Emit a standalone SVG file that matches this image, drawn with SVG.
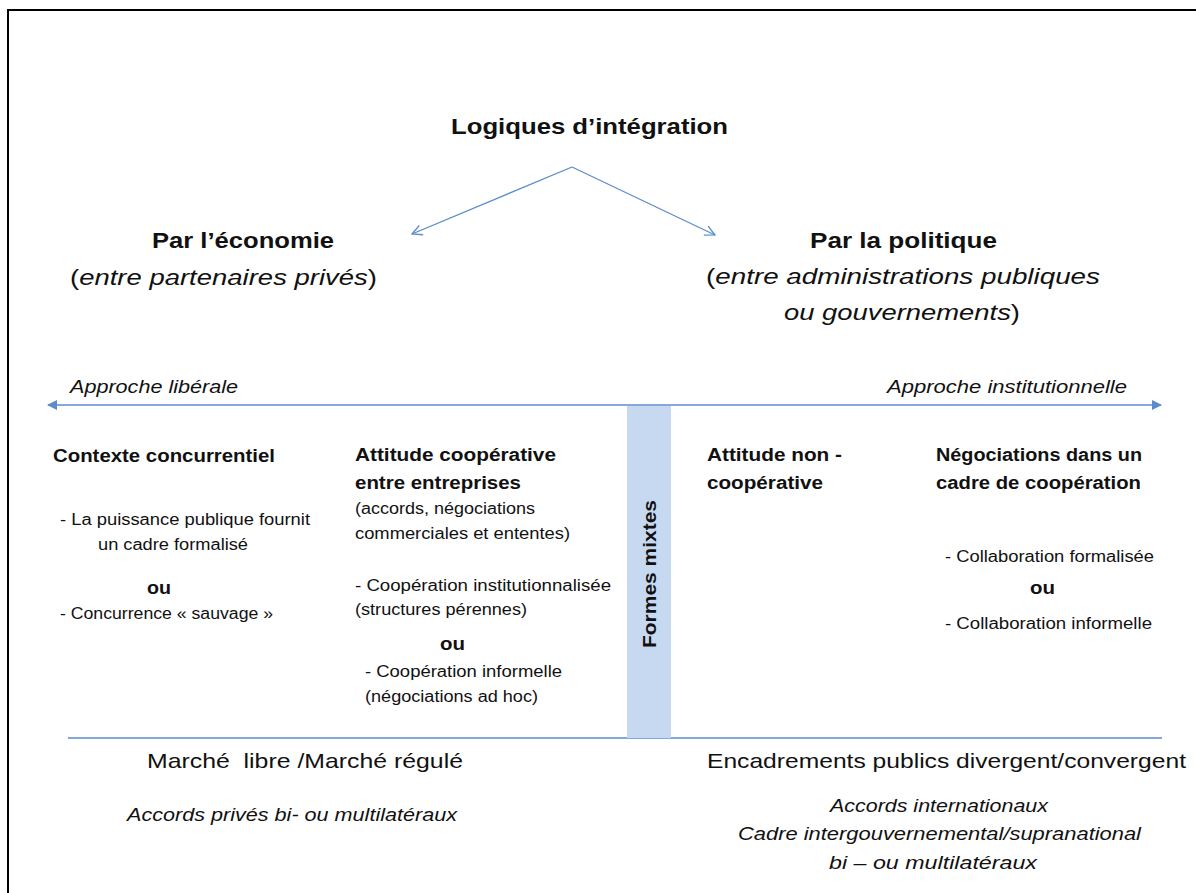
<svg xmlns="http://www.w3.org/2000/svg" width="1196" height="893" viewBox="0 0 1196 893">
<defs>
<style>
text{font-family:"Liberation Sans",Arial,sans-serif;fill:#111}
.b{font-weight:bold}
.i{font-style:italic}
.h1{font-size:22px;font-weight:bold}
.h2{font-size:22px}
.ap{font-size:18px;font-style:italic}
.hd{font-size:18px;font-weight:bold}
.bd{font-size:16px}
.bt{font-size:21px}
.bi{font-size:18px;font-style:italic}
.ln{stroke:#5b8dcc;stroke-width:1.3;fill:none}
</style>
<marker id="open" viewBox="0 0 12 12" refX="11" refY="6" markerWidth="12" markerHeight="12" markerUnits="userSpaceOnUse" orient="auto">
<path d="M1,1 L11,6 L1,11" fill="none" stroke="#5b8dcc" stroke-width="1.3"/>
</marker>
<marker id="fill" viewBox="0 0 10 10" refX="9" refY="5" markerWidth="10" markerHeight="10" markerUnits="userSpaceOnUse" orient="auto">
<path d="M0,0 L10,5 L0,10 Z" fill="#5b8dcc"/>
</marker>
</defs>
<rect x="0" y="0" width="1196" height="893" fill="#fff"/>
<rect x="8" y="10" width="1200" height="900" fill="none" stroke="#000" stroke-width="2"/>

<g id="connectors">
<line class="ln" x1="572" y1="167" x2="412" y2="234" marker-end="url(#open)"/>
<line class="ln" x1="572" y1="167" x2="715" y2="235" marker-end="url(#open)"/>
<line class="ln" x1="604" y1="405" x2="48" y2="405" marker-end="url(#fill)"/>
<line class="ln" x1="604" y1="405" x2="1161" y2="405" marker-end="url(#fill)"/>
<line class="ln" x1="68" y1="738" x2="1162" y2="738"/>
</g>

<g id="title"><text class="h1" x="451" y="134" textLength="277" lengthAdjust="spacingAndGlyphs">Logiques d’intégration</text></g>

<g id="economie">
<text class="h1" x="152" y="248" textLength="182" lengthAdjust="spacingAndGlyphs">Par l’économie</text>
<text class="h2" x="70" y="285" textLength="307" lengthAdjust="spacingAndGlyphs">(<tspan class="i">entre partenaires privés</tspan>)</text>
</g>

<g id="politique">
<text class="h1" x="810" y="248" textLength="187" lengthAdjust="spacingAndGlyphs">Par la politique</text>
<text class="h2" x="706" y="284" textLength="394" lengthAdjust="spacingAndGlyphs">(<tspan class="i">entre administrations publiques</tspan></text>
<text class="h2" x="784" y="320" textLength="236" lengthAdjust="spacingAndGlyphs"><tspan class="i">ou gouvernements</tspan>)</text>
</g>

<g id="approches">
<text class="ap" x="70" y="393" textLength="168" lengthAdjust="spacingAndGlyphs">Approche libérale</text>
<text class="ap" x="887" y="393" textLength="240" lengthAdjust="spacingAndGlyphs">Approche institutionnelle</text>
</g>

<g id="contexte">
<text class="hd" x="53" y="462" textLength="222" lengthAdjust="spacingAndGlyphs">Contexte concurrentiel</text>
<text class="bd" x="60" y="525" textLength="250" lengthAdjust="spacingAndGlyphs">- La puissance publique fournit</text>
<text class="bd" x="98" y="550" textLength="150" lengthAdjust="spacingAndGlyphs">un cadre formalisé</text>
<text class="hd" x="147" y="594" textLength="24" lengthAdjust="spacingAndGlyphs">ou</text>
<text class="bd" x="60" y="619" textLength="213" lengthAdjust="spacingAndGlyphs">- Concurrence « sauvage »</text>
</g>

<g id="cooperative">
<text class="hd" x="355" y="461" textLength="201" lengthAdjust="spacingAndGlyphs">Attitude coopérative</text>
<text class="hd" x="355" y="489" textLength="166" lengthAdjust="spacingAndGlyphs">entre entreprises</text>
<text class="bd" x="355" y="514" textLength="180" lengthAdjust="spacingAndGlyphs">(accords, négociations</text>
<text class="bd" x="355" y="539" textLength="215" lengthAdjust="spacingAndGlyphs">commerciales et ententes)</text>
<text class="bd" x="355" y="591" textLength="256" lengthAdjust="spacingAndGlyphs">- Coopération institutionnalisée</text>
<text class="bd" x="355" y="615" textLength="172" lengthAdjust="spacingAndGlyphs">(structures pérennes)</text>
<text class="hd" x="440" y="650" textLength="25" lengthAdjust="spacingAndGlyphs">ou</text>
<text class="bd" x="365" y="677" textLength="197" lengthAdjust="spacingAndGlyphs">- Coopération informelle</text>
<text class="bd" x="365" y="702" textLength="173" lengthAdjust="spacingAndGlyphs">(négociations ad hoc)</text>
</g>

<g id="mixtes">
<rect x="627" y="406" width="44" height="332" fill="#c6d9f1"/>
<text class="hd" transform="translate(656,574) rotate(-90)" text-anchor="middle" textLength="148" lengthAdjust="spacingAndGlyphs">Formes mixtes</text>
</g>

<g id="noncoop">
<text class="hd" x="707" y="461" textLength="135" lengthAdjust="spacingAndGlyphs">Attitude non -</text>
<text class="hd" x="707" y="489" textLength="116" lengthAdjust="spacingAndGlyphs">coopérative</text>
</g>

<g id="negociations">
<text class="hd" x="936" y="461" textLength="206" lengthAdjust="spacingAndGlyphs">Négociations dans un</text>
<text class="hd" x="936" y="489" textLength="205" lengthAdjust="spacingAndGlyphs">cadre de coopération</text>
<text class="bd" x="945" y="562" textLength="209" lengthAdjust="spacingAndGlyphs">- Collaboration formalisée</text>
<text class="hd" x="1030" y="594" textLength="25" lengthAdjust="spacingAndGlyphs">ou</text>
<text class="bd" x="945" y="629" textLength="207" lengthAdjust="spacingAndGlyphs">- Collaboration informelle</text>
</g>

<g id="marche">
<text class="bt" x="147" y="768" textLength="316" lengthAdjust="spacingAndGlyphs" xml:space="preserve">Marché  libre /Marché régulé</text>
<text class="bi" x="127" y="821" textLength="330" lengthAdjust="spacingAndGlyphs">Accords privés bi- ou multilatéraux</text>
</g>

<g id="encadrements">
<text class="bt" x="707" y="768" textLength="479" lengthAdjust="spacingAndGlyphs">Encadrements publics divergent/convergent</text>
<text class="bi" x="830" y="812" textLength="218" lengthAdjust="spacingAndGlyphs">Accords internationaux</text>
<text class="bi" x="738" y="840" textLength="403" lengthAdjust="spacingAndGlyphs">Cadre intergouvernemental/supranational</text>
<text class="bi" x="829" y="869" textLength="208" lengthAdjust="spacingAndGlyphs">bi – ou multilatéraux</text>
</g>
</svg>
